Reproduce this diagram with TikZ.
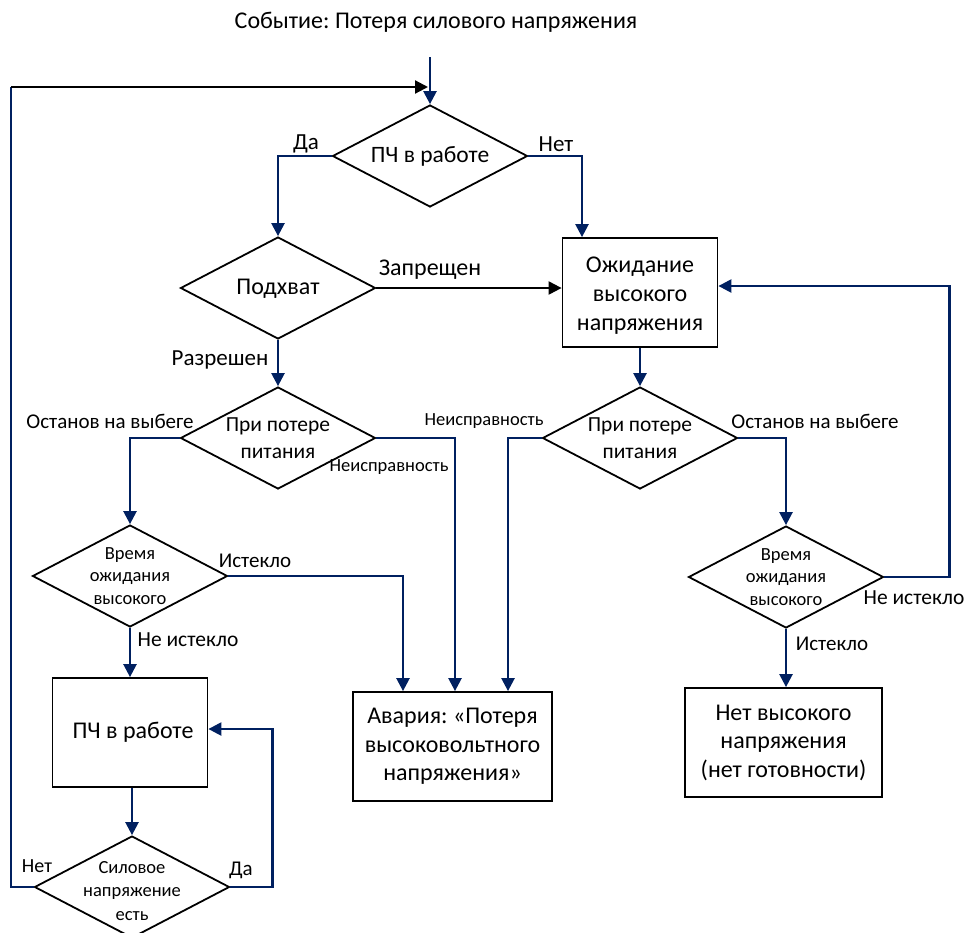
\documentclass[tikz,border=0pt]{standalone}
\usepackage{fontspec}
\setmainfont{Carlito}
\frenchspacing
\usetikzlibrary{shapes.geometric,arrows.meta,calc}
\definecolor{navy}{RGB}{0,32,96}
\tikzset{
  dia/.style={diamond, draw=black, line width=1.8pt, inner sep=0pt, minimum width=195pt, minimum height=102pt},
  box/.style={draw=black, line width=1.8pt, inner sep=0pt},
  txt/.style={align=center, inner sep=0pt},
  arr/.style={draw=navy, line width=2.4pt, -{Triangle[length=13pt,width=13pt]}},
  ln/.style={draw=navy, line width=2.4pt},
  barr/.style={draw=black, line width=2.2pt, -{Triangle[length=13pt,width=13pt]}},
  lab/.style={inner sep=0pt, font=\fontsize{21}{24}\selectfont},
}
\begin{document}
\begin{tikzpicture}[x=1pt,y=-1pt]
\useasboundingbox (0,0) rectangle (965,932);
\clip (0,0) rectangle (965,932);
% title
\node[txt, font=\fontsize{24}{28}\selectfont] (title) at (436,22) {Событие: Потеря силового напряжения};
\coordinate (c0) at (430,57);
% diamonds
\node[dia] (d1) at (430,156) {};
\node[txt, font=\fontsize{23.5}{28}\selectfont] (d1t) at (d1.center) {ПЧ в работе};
\node[dia] (d2) at (278,288) {};
\node[txt, font=\fontsize{24}{28}\selectfont] (d2t) at ([yshift=-1pt]d2.center) {Подхват};
\node[dia] (d3) at (278,438) {};
\node[txt, font=\fontsize{21.5}{27}\selectfont] (d3t) at (d3.center) {При потере\\питания};
\node[dia] (d4) at (130,576) {};
\node[txt, font=\fontsize{18.5}{22.5}\selectfont] (d4t) at (d4.center) {Время\\ожидания\\высокого};
\node[dia] (d5) at (640,438) {};
\node[txt, font=\fontsize{21.5}{27}\selectfont] (d5t) at (d5.center) {При потере\\питания};
\node[dia] (d6) at (786,577) {};
\node[txt, font=\fontsize{18.5}{22.5}\selectfont] (d6t) at (d6.center) {Время\\ожидания\\высокого};
\node[dia] (d7) at (132,887) {};
\node[txt, font=\fontsize{18.5}{23.5}\selectfont] (d7t) at ([yshift=-4pt]d7.center) {Силовое\\напряжение\\есть};
% boxes
\node[box, minimum width=155pt, minimum height=109pt] (b1) at (640,292.5) {};
\node[txt, font=\fontsize{24}{29}\selectfont] (b1t) at ([yshift=-3pt]b1.center) {Ожидание\\высокого\\напряжения};
\node[box, minimum width=155pt, minimum height=109pt] (b2) at (130,732.5) {};
\node[txt, font=\fontsize{24}{29}\selectfont] (b2t) at ([xshift=3pt]b2.center) {ПЧ в работе};
\node[box, minimum width=199pt, minimum height=109pt] (b3) at (452.5,746.5) {};
\node[txt, font=\fontsize{24}{28.5}\selectfont] (b3t) at (b3.center) {Авария: «Потеря\\высоковольтного\\напряжения»};
\node[box, minimum width=197pt, minimum height=109pt] (b4) at (783.5,742.5) {};
\node[txt, font=\fontsize{24}{28.5}\selectfont] (b4t) at (b4.center) {Нет высокого\\напряжения\\(нет готовности)};
% connectors
\draw[arr] (c0) -- (d1.north);
\draw[arr] (d1.west) -| (d2.north);
\draw[arr] (d1.east) -| ([xshift=-58pt]b1.north);
\draw[barr] (d2.east) -- (d2.east -| b1.west);
\draw[arr] (d2.south) -- (d3.north);
\draw[arr] (b1.south) -- (d5.north);
\draw[arr] (d3.west) -| (d4.north);
\draw[arr] (d3.east) -| ([xshift=2.5pt]b3.north);
\draw[arr] (d5.west) -| ([xshift=55.5pt]b3.north);
\draw[arr] (d5.east) -| (d6.north);
\draw[arr] (d4.east) -| ([xshift=-49.5pt]b3.north);
\draw[arr] (d4.south) -- (b2.north);
\draw[arr] (d6.south) -- (d6.south |- b4.north);
\draw[arr] (d6.east) -- ++(65,0) |- ([yshift=6.5pt]b1.east);
\draw[arr] (d7.north |- b2.south) -- (d7.north);
\draw[arr] (d7.east) -- ++(42,0) |- ([yshift=3.5pt]b2.east);
\coordinate (c1) at (11,87);
\draw[ln] (d7.west) -| (c1);
\draw[barr] (c1) -- ([xshift=-2pt]c1 -| d1.north);
% labels
\node[lab, font=\fontsize{23}{26}\selectfont] (l1) at (306,144) {Да};
\node[lab, font=\fontsize{23}{26}\selectfont] (l2) at (556,144) {Нет};
\node[lab, font=\fontsize{24}{26}\selectfont] (l3) at (430,270) {Запрещен};
\node[lab, font=\fontsize{23}{26}\selectfont] (l4) at (220,360) {Разрешен};
\node[lab] (l5) at (110,421) {Останов на выбеге};
\node[lab, font=\fontsize{18.5}{22}\selectfont] (l6) at (389,467) {Неисправность};
\node[lab, font=\fontsize{18.5}{22}\selectfont] (l7) at (484,421) {Неисправность};
\node[lab] (l8) at (815,421) {Останов на выбеге};
\node[lab] (l9) at (255,561) {Истекло};
\node[lab, font=\fontsize{21.5}{24}\selectfont] (l10) at (188,640) {Не истекло};
\node[lab, font=\fontsize{21.5}{24}\selectfont] (l11) at (914,598) {Не истекло};
\node[lab] (l12) at (832,644) {Истекло};
\node[lab, font=\fontsize{20}{24}\selectfont] (l13) at (37,866) {Нет};
\node[lab] (l14) at (241,870) {Да};
\end{tikzpicture}
\end{document}
